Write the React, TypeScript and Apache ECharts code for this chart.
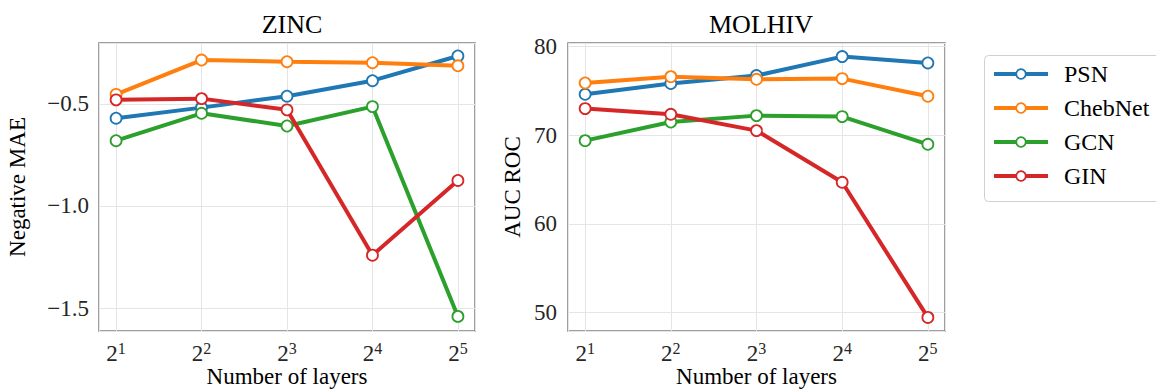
import React, { useEffect, useRef } from "react";
import * as echarts from "echarts";

const layerExponents = [1, 2, 3, 4, 5];
const seriesNames = ["PSN", "ChebNet", "GCN", "GIN"];
const seriesColors = ["#1f77b4", "#ff7f0e", "#2ca02c", "#d62728"];

const zincPSN = [-0.57, -0.518, -0.462, -0.386, -0.265];
const zincChebNet = [-0.453, -0.285, -0.293, -0.298, -0.313];
const zincGCN = [-0.68, -0.546, -0.608, -0.513, -1.541];
const zincGIN = [-0.48, -0.474, -0.529, -1.241, -0.875];

const molhivPSN = [74.59, 75.8, 76.7, 78.84, 78.12];
const molhivChebNet = [75.87, 76.58, 76.28, 76.36, 74.37];
const molhivGCN = [69.37, 71.47, 72.19, 72.08, 68.96];
const molhivGIN = [72.98, 72.34, 70.5, 64.68, 49.46];

const zincSeries = [zincPSN, zincChebNet, zincGCN, zincGIN];
const molhivSeries = [molhivPSN, molhivChebNet, molhivGCN, molhivGIN];

const FONT = "Liberation Serif";

function fmtMinus(v: number): string {
  const r = Math.round(v * 10) / 10;
  const s = r.toFixed(1);
  return s.startsWith("-") ? "\u2212" + s.slice(1) : s;
}

export default function App() {
  const ref = useRef<HTMLDivElement>(null);
  useEffect(() => {
    if (!ref.current) return;
    const chart = echarts.init(ref.current, undefined, { renderer: "svg" });

    const xAxisCommon = (gridIndex: number) => ({
      type: "value",
      gridIndex,
      min: 0.8,
      max: 5.2,
      splitNumber: 4,
      name: "Number of layers",
      nameLocation: "middle",
      nameGap: 34,
      nameMoveOverlap: false,
      nameTextStyle: { fontFamily: FONT, fontSize: 23, color: "#000" },
      axisLine: { show: false },
      axisTick: { show: false },
      axisLabel: {
        showMinLabel: false,
        showMaxLabel: false,
        margin: 9,
        fontFamily: FONT,
        formatter: (v: number) =>
          Math.abs(v - Math.round(v)) < 1e-6 && layerExponents.includes(Math.round(v))
            ? "{b|2}{s|" + Math.round(v) + "}"
            : "",
        rich: {
          b: { fontFamily: FONT, fontSize: 23, color: "#262626" },
          s: { fontFamily: FONT, fontSize: 16, color: "#262626", padding: [0, 0, 10, 0] },
        },
      },
      splitLine: { show: true, lineStyle: { color: "#e5e5e5", width: 1 } },
    });

    const series: any[] = [];
    [zincSeries, molhivSeries].forEach((group, gi) => {
      group.forEach((vals, si) => {
        series.push({
          type: "line",
          name: seriesNames[si],
          xAxisIndex: gi,
          yAxisIndex: gi,
          data: layerExponents.map((e, i) => [e, vals[i]]),
          symbol: "circle",
          symbolSize: 11,
          showSymbol: true,
          lineStyle: { width: 4, color: seriesColors[si] },
          itemStyle: { color: "#fff", borderColor: seriesColors[si], borderWidth: 1.8 },
          color: seriesColors[si],
          z: 2 + si,
        });
      });
    });

    const gridCommon = {
      show: true,
      borderColor: "#808080",
      borderWidth: 1.5,
      backgroundColor: "transparent",
      containLabel: false,
      outerBoundsMode: "none",
    };

    chart.setOption({
      animation: false,
      backgroundColor: "#fff",
      textStyle: { fontFamily: FONT },
      title: [
        {
          text: "ZINC",
          left: 287,
          textAlign: "center",
          top: 6,
          textStyle: { fontFamily: FONT, fontSize: 26, fontWeight: "normal", color: "#000" },
        },
        {
          text: "MOLHIV",
          left: 756,
          textAlign: "center",
          top: 6,
          textStyle: { fontFamily: FONT, fontSize: 26, fontWeight: "normal", color: "#000" },
        },
      ],
      graphic: [
        {
          type: "rect",
          left: 984,
          top: 55,
          shape: { width: 200, height: 146, r: 4 },
          style: { fill: "#fff", stroke: "#d0d0d0", lineWidth: 1 },
          z: 0,
        },
      ],
      legend: {
        data: seriesNames.map((n) => ({ name: n })),
        orient: "vertical",
        left: 984,
        top: 55,
        itemWidth: 54,
        itemHeight: 12,
        itemGap: 10,
        padding: [7, 10, 10, 8],
        z: 10,
        lineStyle: { width: 4 },
        itemStyle: { color: "#fff", borderWidth: 1.8 },
        textStyle: { fontFamily: FONT, fontSize: 24, color: "#000", padding: [0, 0, 0, 11] },
      },
      grid: [
        { ...gridCommon, left: 99, top: 43, width: 376, height: 288 },
        { ...gridCommon, left: 568, top: 43, width: 377, height: 288 },
      ],
      xAxis: [xAxisCommon(0), xAxisCommon(1)],
      yAxis: [
        {
          type: "value",
          gridIndex: 0,
          min: -1.6126,
          max: -0.2014,
          splitNumber: 3,
          name: "Negative MAE",
          nameLocation: "middle",
          nameGap: 70,
          nameTextStyle: { fontFamily: FONT, fontSize: 23, color: "#000" },
          axisLine: { show: false },
          axisTick: { show: false },
          axisLabel: {
            showMinLabel: false,
            showMaxLabel: false,
            margin: 10,
            fontFamily: FONT,
            fontSize: 23,
            color: "#262626",
            formatter: (v: number) => (Math.abs(v * 2 - Math.round(v * 2)) < 1e-6 ? fmtMinus(v) : ""),
          },
          splitLine: { show: true, lineStyle: { color: "#e5e5e5", width: 1 } },
        },
        {
          type: "value",
          gridIndex: 1,
          min: 47.93,
          max: 80.37,
          splitNumber: 3,
          name: "AUC ROC",
          nameLocation: "middle",
          nameGap: 44,
          nameTextStyle: { fontFamily: FONT, fontSize: 23, color: "#000" },
          axisLine: { show: false },
          axisTick: { show: false },
          axisLabel: {
            showMinLabel: false,
            showMaxLabel: false,
            margin: 11,
            fontFamily: FONT,
            fontSize: 23,
            color: "#262626",
            formatter: (v: number) => (Math.abs(v / 10 - Math.round(v / 10)) < 1e-6 ? String(Math.round(v)) : ""),
          },
          splitLine: { show: true, lineStyle: { color: "#e5e5e5", width: 1 } },
        },
      ],
      series,
    });
    return () => chart.dispose();
  }, []);
  return (
    <div
      ref={ref}
      style={{ position: "fixed", left: 0, top: 0, width: 1156, height: 391, background: "#fff" }}
    />
  );
}
